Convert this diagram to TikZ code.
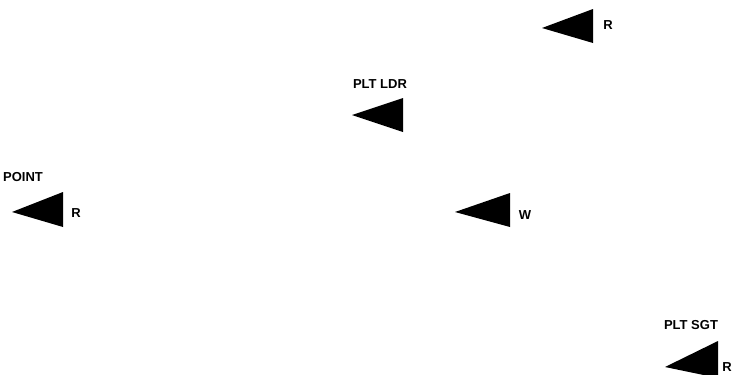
\documentclass[tikz,border=0pt]{standalone}
\usepackage{fontspec}
\setmainfont{Liberation Sans}
\begin{document}
\begin{tikzpicture}[x=1pt,y=-1pt,
  tri/.style={fill=black},
  lbl/.style={font=\fontsize{13}{13}\selectfont\bfseries, inner sep=0pt, text=black}]
\useasboundingbox (0,0) rectangle (732,375);
% triangle top right
\fill[tri] (542,28) -- (593,9) -- (593,43) -- cycle;
\node[lbl] (r1) at (608,25) {R};
% PLT LDR
\node[lbl] (ldr) at (380,84) {PLT LDR};
\fill[tri] (352,115) -- (403,98) -- (403,132) -- cycle;
% POINT
\node[lbl] (point) at (23,177) {POINT};
\fill[tri] (12,212) -- (63,192) -- (63,227) -- cycle;
\node[lbl] (r2) at (76,213) {R};
% W
\fill[tri] (455,212) -- (510,193) -- (510,227) -- cycle;
\node[lbl] (w) at (525,215) {W};
% PLT SGT
\node[lbl] (sgt) at (691,325) {PLT SGT};
\fill[tri] (665,367) -- (718,341) -- (718,378) -- cycle;
\node[lbl, anchor=east] (r3) at (732,367) {R};
\end{tikzpicture}
\end{document}
